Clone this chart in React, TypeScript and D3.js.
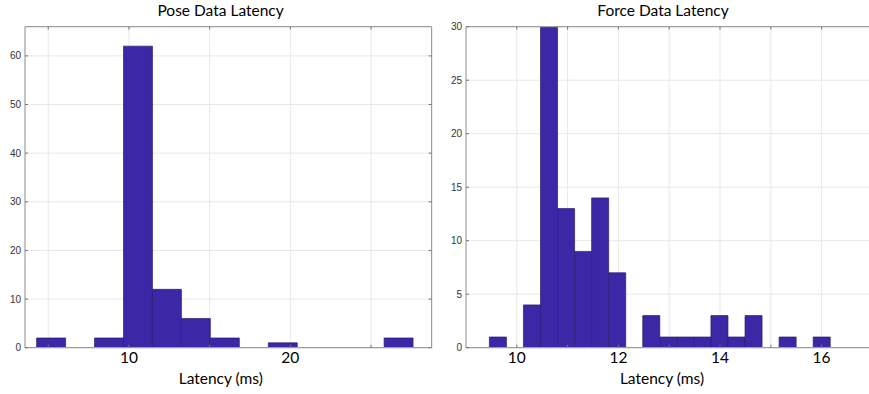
import React from "react";
import * as d3 from "d3";

// ---- Data ----
const poseCounts = [2, 0, 2, 62, 12, 6, 2, 0, 1, 0, 0, 0, 2];
const poseBinStart = 4.28;
const poseBinWidth = 1.794;
const poseXTicksGrid = [5, 10, 15, 20, 25];
const poseXTickLabels = [10, 20];
const poseYTicks = [0, 10, 20, 30, 40, 50, 60];

const forceCounts = [1, 0, 4, 30, 13, 9, 14, 7, 0, 3, 1, 1, 1, 3, 1, 3, 0, 1, 0, 1];
const forceBinStart = 9.46;
const forceBinWidth = 0.3355;
const forceXTicksGrid = [10, 11, 12, 13, 14, 15, 16];
const forceXTickLabels = [10, 12, 14, 16];
const forceYTicks = [0, 5, 10, 15, 20, 25, 30];

const BAR_FILL = "#3c28a6";
const BAR_STROKE = "#2a1c72";
const AXIS = "#9e9e9e";
const GRID = "#e8e8e8";

type PanelProps = {
  title: string;
  counts: number[];
  binStart: number;
  binWidth: number;
  xDomain: [number, number];
  yMax: number;
  x0: number;
  x1: number;
  gridX: number[];
  labelX: number[];
  yTicks: number[];
  titleX: number;
  labelCenter: number;
  rightBorder: boolean;
};

const Y0 = 347.7;
const Y1 = 26.7;

function Panel(p: PanelProps) {
  const x = d3.scaleLinear().domain(p.xDomain).range([p.x0, p.x1]);
  const y = d3.scaleLinear().domain([0, p.yMax]).range([Y0, Y1]);
  const clipId = "clip-" + p.title.replace(/\s/g, "");
  return (
    <g>
      <defs>
        <clipPath id={clipId}>
          <rect x={p.x0} y={Y1} width={p.x1 - p.x0} height={Y0 - Y1} />
        </clipPath>
      </defs>
      {/* grid */}
      {p.gridX.map((v) => (
        <line key={"gx" + v} x1={x(v)} x2={x(v)} y1={Y1} y2={Y0} stroke={GRID} strokeWidth={1} />
      ))}
      {p.yTicks.map((v) => (
        <line key={"gy" + v} x1={p.x0} x2={p.x1} y1={y(v)} y2={y(v)} stroke={GRID} strokeWidth={1} />
      ))}
      {/* bars */}
      <g clipPath={`url(#${clipId})`}>
        {p.counts.map((c, i) => {
          const a = x(p.binStart + i * p.binWidth);
          const b = x(p.binStart + (i + 1) * p.binWidth);
          const top = y(c);
          return (
            <path
              key={"b" + i}
              d={`M${a},${Y0}V${top}H${b}V${Y0}Z`}
              fill={BAR_FILL}
              stroke={BAR_STROKE}
              strokeWidth={0.7}
            />
          );
        })}
      </g>
      {/* box */}
      <line x1={p.x0} x2={p.x1} y1={Y1} y2={Y1} stroke={AXIS} strokeWidth={1.2} />
      <line x1={p.x0} x2={p.x1} y1={Y0} y2={Y0} stroke={AXIS} strokeWidth={1.2} />
      <line x1={p.x0} x2={p.x0} y1={Y1} y2={Y0} stroke={AXIS} strokeWidth={1.2} />
      {p.rightBorder && <line x1={p.x1} x2={p.x1} y1={Y1} y2={Y0} stroke={AXIS} strokeWidth={1.2} />}
      {/* ticks */}
      {p.yTicks.map((v) => (
        <g key={"ty" + v}>
          <line x1={p.x0} x2={p.x0 + 3} y1={y(v)} y2={y(v)} stroke="#777" strokeWidth={1} />
          {p.rightBorder && <line x1={p.x1} x2={p.x1 - 3} y1={y(v)} y2={y(v)} stroke="#777" strokeWidth={1} />}
          <text
            x={p.x0 - 4}
            y={y(v)}
            dy="0.35em"
            textAnchor="end"
            fontFamily="Liberation Sans, Arial, sans-serif"
            fontSize={10}
            fill="#333"
          >
            {v}
          </text>
        </g>
      ))}
      {p.gridX.map((v) => (
        <g key={"tx" + v}>
          <line x1={x(v)} x2={x(v)} y1={Y0} y2={Y0 - 3} stroke="#777" strokeWidth={1} />
          <line x1={x(v)} x2={x(v)} y1={Y1} y2={Y1 + 3} stroke="#777" strokeWidth={1} />
        </g>
      ))}
      {p.labelX.map((v) => (
        <text
          key={"lx" + v}
          x={x(v)}
          y={363}
          textAnchor="middle"
          fontFamily="Lato, Open Sans, sans-serif"
          fontSize={15.5}
          fill="#000"
        >
          {v}
        </text>
      ))}
      <text
        x={p.titleX}
        y={15.5}
        textAnchor="middle"
        fontFamily="Lato, Open Sans, sans-serif"
        fontSize={15.5}
        fill="#000"
      >
        {p.title}
      </text>
      <text
        x={p.labelCenter}
        y={384}
        textAnchor="middle"
        fontFamily="Lato, Open Sans, sans-serif"
        fontSize={15.5}
        fill="#000"
      >
        Latency (ms)
      </text>
    </g>
  );
}

export default function App() {
  return (
    <svg
      width={869}
      height={394}
      style={{ position: "absolute", left: 0, top: 0, background: "#fff" }}
    >
      <rect width={869} height={394} fill="#fff" />
      <Panel
        title="Pose Data Latency"
        counts={poseCounts}
        binStart={poseBinStart}
        binWidth={poseBinWidth}
        xDomain={[3.56, 28.75]}
        yMax={66}
        x0={25}
        x1={431.6}
        gridX={poseXTicksGrid}
        labelX={poseXTickLabels}
        yTicks={poseYTicks}
        titleX={220.6}
        labelCenter={220.8}
        rightBorder={true}
      />
      <Panel
        title="Force Data Latency"
        counts={forceCounts}
        binStart={forceBinStart}
        binWidth={forceBinWidth}
        xDomain={[9, 17]}
        yMax={30}
        x0={466}
        x1={872.4}
        gridX={forceXTicksGrid}
        labelX={forceXTickLabels}
        yTicks={forceYTicks}
        titleX={663}
        labelCenter={662}
        rightBorder={false}
      />
    </svg>
  );
}
